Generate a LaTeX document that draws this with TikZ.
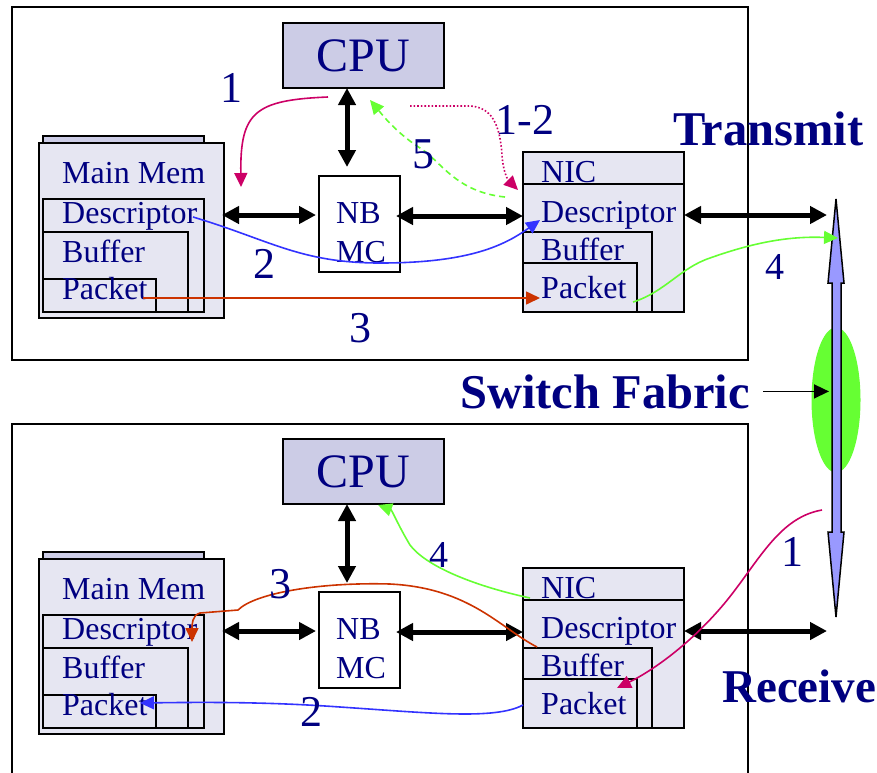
\documentclass[tikz,border=0pt]{standalone}
\usepackage{fontspec}
\setmainfont{Liberation Serif}
\usetikzlibrary{arrows.meta,shapes.geometric}
\definecolor{navytext}{RGB}{0,0,128}
\definecolor{cpufill}{RGB}{204,204,230}
\definecolor{boxfill}{RGB}{230,230,242}
\definecolor{magent}{RGB}{204,0,102}
\definecolor{lgreen}{RGB}{102,255,51}
\definecolor{pblue}{RGB}{51,51,255}
\definecolor{rorange}{RGB}{204,51,0}
\definecolor{switchblue}{RGB}{153,153,255}
\begin{document}
\begin{tikzpicture}[x=1pt,y=-1pt,
  frame/.style={draw=black,line width=1.6pt},
  boxs/.style={draw=black,line width=1.6pt,fill=boxfill,anchor=north west,inner sep=0pt,outer sep=0pt},
  cpubox/.style={draw=black,line width=1.6pt,fill=cpufill,anchor=north west,inner sep=0pt,outer sep=0pt,minimum width=161pt,minimum height=65pt,text=navytext,font=\fontsize{48}{48}\selectfont},
  nbbox/.style={draw=black,line width=1.4pt,fill=white,anchor=north west,inner sep=0pt,outer sep=0pt,minimum width=81pt,minimum height=96pt},
  lbl/.style={text=navytext,font=\fontsize{32}{32}\selectfont,anchor=base west,inner sep=0pt},
  num/.style={text=navytext,font=\fontsize{44}{44}\selectfont,inner sep=0pt},
  numsm/.style={text=navytext,font=\fontsize{38}{38}\selectfont,inner sep=0pt},
  ttl/.style={text=navytext,font=\bfseries\fontsize{48.5}{48.5}\selectfont,anchor=base west,inner sep=0pt},
  bigarrow/.style={line width=5pt,{Triangle[length=17pt,width=17pt]}-{Triangle[length=17pt,width=17pt]}},
  ctip/.style={-{Triangle[length=14pt,width=13pt]},line width=1.6pt},
]
\useasboundingbox (0,0) rectangle (877,772);
% outer frames
\draw[frame] (12,7) rectangle (748,360);
\draw[frame] (12,775) -- (12,424) -- (748,424) -- (748,775);
% switch fabric
\node[ellipse,fill=lgreen,minimum width=49pt,minimum height=145pt,inner sep=0pt] (fabric) at (836,400) {};
\draw[fill=switchblue,line width=1.5pt,line join=miter]
  (836,199) -- (844,283) -- (841,283) -- (841,532) -- (844,532) -- (836,617)
  -- (828,532) -- (832,532) -- (832,283) -- (828,283) -- cycle;
\coordinate (swpt) at (829,391);
\node[ttl] (sf) at (460,408) {Switch Fabric};
\draw[line width=1.5pt,-{Triangle[length=15pt,width=14pt]}] (763,0 |- sf.east) -- (sf.east -| swpt);
\node[ttl] (transmit) at (673,145) {Transmit};
\node[ttl,font=\bfseries\fontsize{47}{47}\selectfont] (receive) at (722,702) {Receive};
\foreach \s/\o in {t/0,b/416}{
  % main memory stack
  \node[boxs,fill=cpufill,minimum width=161pt,minimum height=20pt] (mb\s) at (43,136+\o) {};
  \node[boxs,minimum width=185pt,minimum height=175pt] (mf\s) at (39,143+\o) {};
  \node[boxs,minimum width=161pt,minimum height=113pt] (md\s) at (43,199+\o) {};
  \node[boxs,minimum width=145pt,minimum height=80pt] (mbuf\s) at (43,232+\o) {};
  \node[boxs,minimum width=113pt,minimum height=33pt] (mp\s) at (43,279+\o) {};
  \node[lbl] (mmt\s) at (62,183+\o) {Main Mem};
  \node[lbl] (mdt\s) at (62,223+\o) {Descriptor};
  \node[lbl] (mbt\s) at (62,262+\o) {Buffer};
  \node[lbl] (mpt\s) at (62,299+\o) {Packet};
  % NIC stack
  \node[boxs,minimum width=161pt,minimum height=160pt] (nf\s) at (523,152+\o) {};
  \node[boxs,minimum width=161pt,minimum height=128pt] (nd\s) at (523,184+\o) {};
  \node[boxs,minimum width=129pt,minimum height=80pt] (nbuf\s) at (523,232+\o) {};
  \node[boxs,minimum width=114pt,minimum height=49pt] (np\s) at (523,263+\o) {};
  \node[lbl] (nnt\s) at (541,182+\o) {NIC};
  \node[lbl] (ndt\s) at (541,222+\o) {Descriptor};
  \node[lbl] (nbt\s) at (541,260+\o) {Buffer};
  \node[lbl] (npt\s) at (541,298+\o) {Packet};
  % CPU and NB
  \node[cpubox] (cpu\s) at (283,23+\o) {CPU};
  \node[nbbox] (nb\s) at (319,176+\o) {};
  \node[lbl] (nbt1\s) at (336,223+\o) {NB};
  \node[lbl] (nbt2\s) at (336,262+\o) {MC};
  % black bus arrows
  \coordinate (tx\s) at (827,215+\o);
  \draw[bigarrow] ([xshift=-16.5pt]cpu\s.south) -- ([xshift=-12.5pt,yshift=9pt]nb\s.north);
  \draw[bigarrow] ([xshift=-2pt,yshift=15.5pt]mf\s.east) -- ([xshift=-3pt,yshift=9pt]nb\s.west);
  \draw[bigarrow] ([xshift=-4pt,yshift=8pt]nb\s.east) -- ([yshift=16pt]nf\s.west);
  \draw[bigarrow] ([yshift=17pt]nf\s.east) -- (tx\s);
}
% ---- transmit flows ----
\coordinate (a1s) at (328,97);   \coordinate (a1e) at (241,187);
\draw[magent,ctip] (a1s) .. controls (255,100) and (240,112) .. (a1e);
\coordinate (a12s) at (410,106); \coordinate (a12e) at (518,190);
\draw[magent,ctip,dotted] (a12s) -- (468,106) .. controls (492,106) and (500,125) .. (502,155)
  .. controls (503,172) and (508,180) .. (a12e);
\coordinate (a5s) at (505,197);  \coordinate (a5e) at (370,100);
\draw[lgreen,ctip,dash pattern=on 6pt off 4pt] (a5s) .. controls (455,192) and (440,160) .. (420,148)
  .. controls (395,132) and (380,112) .. (a5e);
\coordinate (a2s) at (193,217);  \coordinate (a2e) at (540,220);
\draw[pblue,ctip] (a2s) .. controls (270,240) and (300,263) .. (380,263)
  .. controls (470,263) and (505,245) .. (a2e);
\coordinate (a3s) at (143,298);  \coordinate (a3e) at (540,298);
\draw[rorange,ctip] (a3s) -- (a3e);
\coordinate (a4s) at (633,302);  \coordinate (a4e) at (838,238);
\draw[lgreen,ctip] (a4s) .. controls (665,292) and (680,268) .. (710,258)
  .. controls (755,242) and (790,236) .. (a4e);
\node[num] (l1t) at (231,88) {1};
\node[num] (l12t) at (525,120) {1-2};
\node[num] (l5t) at (423,154) {5};
\node[num] (l2t) at (264,264) {2};
\node[num] (l3t) at (360,328) {3};
\node[numsm] (l4t) at (775,267) {4};
% ---- receive flows ----
\coordinate (b1s) at (822,510);  \coordinate (b1e) at (617,688);
\draw[magent,ctip] (b1s) .. controls (775,518) and (755,570) .. (717,612)
  .. controls (685,648) and (650,672) .. (b1e);
\coordinate (b2s) at (523,705);  \coordinate (b2e) at (140,703);
\draw[pblue,ctip] (b2s) .. controls (495,720) and (430,713) .. (340,707)
  .. controls (270,702) and (210,702) .. (b2e);
\coordinate (b3s) at (537,647);  \coordinate (b3e) at (192,642);
\draw[rorange,ctip] (b3s) .. controls (500,628) and (470,588) .. (390,584)
  .. controls (320,582) and (255,593) .. (238,610) -- (200,613)
  .. controls (192,615) and (192,625) .. (b3e);
\coordinate (b4s) at (530,598);  \coordinate (b4e) at (378,505);
\draw[lgreen,ctip] (b4s) .. controls (470,585) and (425,565) .. (410,545)
  .. controls (398,525) and (392,510) .. (b4e);
\node[num] (l1b) at (792,552) {1};
\node[num] (l2b) at (311,712) {2};
\node[num] (l3b) at (280,584) {3};
\node[numsm] (l4b) at (439,555) {4};
\end{tikzpicture}
\end{document}
